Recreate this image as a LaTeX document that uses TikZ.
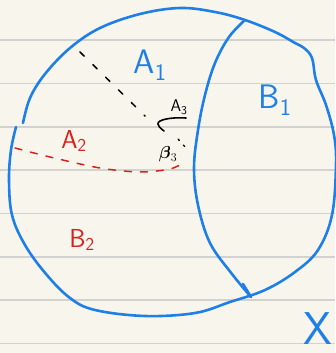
\documentclass[tikz,border=0pt]{standalone}
\usepackage{amsmath,amssymb}
\usepackage{xcolor}
\usepackage{tikz}
\usetikzlibrary{positioning}
\definecolor{paper}{HTML}{F8F6EC}
\definecolor{rule}{HTML}{D2D2D0}
\definecolor{inkblue}{HTML}{1F7FE8}
\definecolor{inkred}{HTML}{D8201C}
\tikzset{
  stroke/.style = {line width=2.6pt, line cap=round, line join=round},
  bluel/.style  = {stroke, draw=inkblue},
  redd/.style   = {line width=1.5pt, line cap=round, draw=inkred,
                   dash pattern=on 7pt off 9pt},
  blackd/.style = {line width=1.5pt, line cap=round, draw=black,
                   dash pattern=on 6pt off 12pt},
  lbl/.style    = {inner sep=0pt, font=\sffamily},
  biglbl/.style = {lbl, font=\sffamily\fontsize{34}{34}\selectfont},
  midlbl/.style = {lbl, font=\sffamily\fontsize{26}{26}\selectfont},
  smllbl/.style = {lbl, font=\sffamily\fontsize{17}{17}\selectfont},
}

\begin{document}
\begin{tikzpicture}[x=1pt, y=-1pt]

  % ── paper and ruled lines ──────────────────────────────────────────────────
  \fill[paper] (0,0) rectangle (335,353);
  \useasboundingbox (0,0) rectangle (335,353);
  \foreach \yy in {40,83.5,127,170,213.5,257,300,343.5}
    \draw[rule, line width=1.2pt] (0,\yy) -- (335,\yy);

  % ── outer set X ────────────────────────────────────────────────────────────
  \draw[bluel] plot[smooth, tension=0.6] coordinates {
    (23,123) (30,98) (45,74) (70,48) (100,28) (140,14) (180,8) (215,12)
    (245,20) (275,32) (295,43) (304,48) (312,58) (316,80) (326,105)
    (334,135) (336,165) (332,215) (318,250) (295,272) (265,290) (230,302)
    (195,313) (145,316) (95,310) (70,298) (46,274) (25,245) (12,215)
    (9,180) (11,150) (16,127)};

  % ── dividing curve B1 ──────────────────────────────────────────────────────
  \draw[bluel] plot[smooth, tension=0.6] coordinates {
    (245,20) (229,37) (215,63) (205,95) (198,130) (194,168) (198,205)
    (210,243) (232,274) (251,297)};
  \draw[bluel] (243,284) -- (251,297);

  % ── dashed cuts ────────────────────────────────────────────────────────────
  \draw[blackd] (80,52) -- (145,116);
  \draw[redd] plot[smooth] coordinates {
    (15,148) (50,157) (100,168) (140,172) (170,169) (185,162)};
  \draw[line width=1.3pt, line cap=round, dash pattern=on 2pt off 6pt]
    (178,139) -- (186,148);

  % ── arc under A3 ───────────────────────────────────────────────────────────
  \draw[line width=1.6pt, line cap=round] (186,118) .. controls (170,117)
    and (157,120) .. (158,124) .. controls (159,127) .. (164,131);

  % ── labels ─────────────────────────────────────────────────────────────────
  \node[biglbl, text=inkblue] (a1) at (150,65) {A\textsubscript{1}};
  \node[biglbl, text=inkblue] (b1) at (275,100) {B\textsubscript{1}};
  \node[midlbl, text=inkred]  (a2) at (74,141) {A\textsubscript{2}};
  \node[midlbl, text=inkred]  (b2) at (82,240) {B\textsubscript{2}};
  \node[smllbl]               (a3) at (179,107) {A\textsubscript{3}};
  \node[smllbl]               (be) at (168,154) {$\boldsymbol{\beta}_3$};
  \node[lbl, text=inkblue, font=\sffamily\fontsize{46}{46}\selectfont]
                              (x)  at (318,329) {X};

\end{tikzpicture}
\end{document}
